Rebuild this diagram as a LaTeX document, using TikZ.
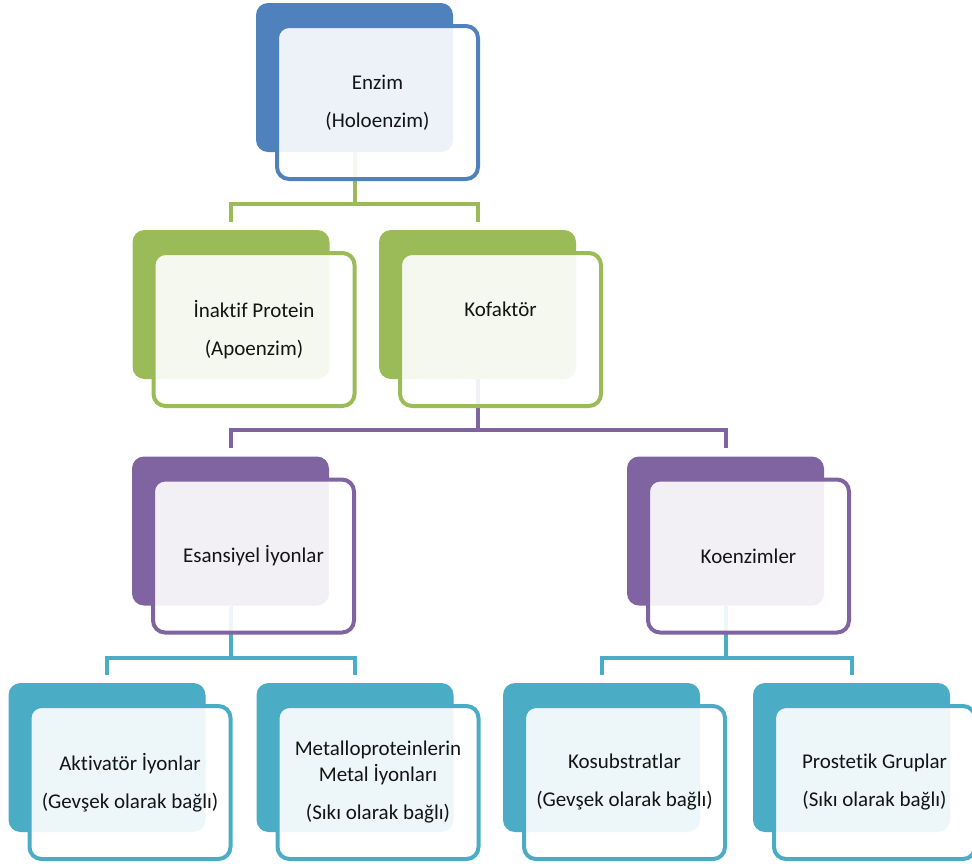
\documentclass[tikz,border=0pt]{standalone}
\usepackage{fontspec}
\setmainfont{Carlito}[Ligatures=NoCommon]
\usetikzlibrary{backgrounds}
\definecolor{blueA}{HTML}{4F81BD}
\definecolor{greenA}{HTML}{9BBB59}
\definecolor{purpleA}{HTML}{8064A2}
\definecolor{cyanA}{HTML}{4BACC6}
\tikzset{
  backbox/.style={fill=#1, rounded corners=12pt, minimum width=197pt, minimum height=149pt, inner sep=0pt},
  frontbox/.style={draw=#1, line width=4pt, fill=white, fill opacity=0.9, text opacity=1, rounded corners=12pt,
    minimum width=201pt, minimum height=153pt, inner sep=0pt, align=center, text=black!92,
    font=\fontsize{21}{26}\selectfont},
  lnk/.style={draw=#1, line width=4pt},
}
\begin{document}
\begin{tikzpicture}[x=1pt, y=-1pt]
  \useasboundingbox (0,0) rectangle (972,863);
  \node[backbox=blueA] (enzB) at (354.5,77.5) {};
  \node[backbox=greenA] (apoB) at (231,304.5) {};
  \node[backbox=greenA] (kofB) at (477.5,304.5) {};
  \node[backbox=purpleA] (esaB) at (230.5,531) {};
  \node[backbox=purpleA] (koeB) at (725.5,531) {};
  \node[backbox=cyanA] (aktB) at (107,757.5) {};
  \node[backbox=cyanA] (metB) at (355,757.5) {};
  \node[backbox=cyanA] (kosB) at (601.5,757.5) {};
  \node[backbox=cyanA] (proB) at (851.5,757.5) {};
  \node[frontbox=blueA] (enz) at ([shift={(23,25)}]enzB.center) {Enzim\\[12pt](Holoenzim)};
  \node[frontbox=greenA] (apo) at ([shift={(23,25)}]apoB.center) {İnaktif Protein\\[12pt](Apoenzim)};
  \node[frontbox=greenA] (kof) at ([shift={(23,25)}]kofB.center) {Kofaktör\\[12pt]\phantom{(}};
  \node[frontbox=purpleA] (esa) at ([shift={(23,25)}]esaB.center) {Esansiyel İyonlar};
  \node[frontbox=purpleA] (koe) at ([shift={(23,25)}]koeB.center) {Koenzimler};
  \node[frontbox=cyanA] (akt) at ([shift={(23,25)}]aktB.center) {Aktivatör İyonlar\\[12pt](Gevşek olarak bağlı)};
  \node[frontbox=cyanA] (met) at ([shift={(23,25)}]metB.center) {Metalloproteinlerin\\Metal İyonları\\[12pt](Sıkı olarak bağlı)};
  \node[frontbox=cyanA] (kos) at ([shift={(23,25)}]kosB.center) {Kosubstratlar\\[12pt](Gevşek olarak bağlı)};
  \node[frontbox=cyanA] (pro) at ([shift={(23,25)}]proB.center) {Prostetik Gruplar\\[12pt](Sıkı olarak bağlı)};
  \begin{scope}[on background layer]
    \draw[lnk=greenA] (enzB.south) -- ++(0,52) coordinate (enzBar);
    \draw[lnk=greenA] ([yshift=8pt]apoB.north) |- (enzBar) -| ([yshift=8pt]kofB.north);
    \draw[lnk=purpleA] (kofB.south) -- ++(0,51) coordinate (kofBar);
    \draw[lnk=purpleA] ([yshift=8pt]esaB.north) |- (kofBar) -| ([yshift=8pt]koeB.north);
    \draw[lnk=cyanA] (esaB.south) -- ++(0,52) coordinate (esaBar);
    \draw[lnk=cyanA] ([yshift=8pt]aktB.north) |- (esaBar) -| ([yshift=8pt]metB.north);
    \draw[lnk=cyanA] (koeB.south) -- ++(0,52) coordinate (koeBar);
    \draw[lnk=cyanA] ([yshift=8pt]kosB.north) |- (koeBar) -| ([yshift=8pt]proB.north);
  \end{scope}
\end{tikzpicture}
\end{document}
